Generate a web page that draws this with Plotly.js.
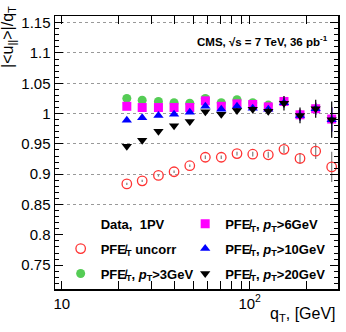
<!DOCTYPE html>
<html>
<head>
<meta charset="utf-8">
<script src="https://cdn.plot.ly/plotly-3.0.1.min.js"></script>
<style>
  html, body { margin: 0; padding: 0; background: #fff; }
  #chart { width: 346px; height: 332px; }
</style>
</head>
<body>
<div id="chart"></div>
<script>
// q_T bin centres [GeV]
const qT = [22.2, 26.8, 32.7, 39.6, 48.0, 58.1, 70.6, 85.6, 103.8, 125.6, 152.2, 185.2, 224.4, 273];

// |<u_par>|/q_T per PF MET variant
const uncorr = [0.884, 0.889, 0.898, 0.904, 0.914, 0.928, 0.928, 0.934, 0.933, 0.932, 0.941, 0.926, 0.938, 0.912];
const uncorrErr = [0.002, 0.002, 0.002, 0.002, 0.002, 0.003, 0.003, 0.003, 0.004, 0.005, 0.006, 0.009, 0.013, 0.025];
const pt3 = [1.025, 1.022, 1.020, 1.018, 1.017, 1.025, 1.018, 1.023, 1.018, 1.014, 1.020, 0.998, 1.008, 0.991];
const pt6 = [1.012, 1.010, 1.010, 1.010, 1.010, 1.021, 1.012, 1.016, 1.015, 1.011, 1.020, 0.998, 1.008, 0.991];
const pt10 = [0.989, 0.993, 0.997, 0.999, 1.002, 1.012, 1.007, 1.012, 1.009, 1.007, 1.018, 0.997, 1.008, 0.990];
const pt20 = [0.946, 0.956, 0.971, 0.980, 0.987, 1.003, 0.999, 1.005, 1.007, 1.004, 1.017, 0.997, 1.008, 0.990];
const corrErr = [0.002, 0.002, 0.002, 0.002, 0.002, 0.003, 0.003, 0.004, 0.005, 0.006, 0.012, 0.013, 0.015, 0.03];
const colErr = [0.001, 0.001, 0.001, 0.001, 0.001, 0.002, 0.002, 0.002, 0.003, 0.004, 0.008, 0.009, 0.01, 0.02];

// axis ticks
const yTickVals = [0.75, 0.8, 0.85, 0.9, 0.95, 1, 1.05, 1.1, 1.15];
const yTickText = ['0.75', '0.8', '0.85', '0.9', '0.95', '1', '1.05', '1.1', '1.15'];
const yGridVals = [0.85, 0.9, 0.95, 1, 1.05, 1.1, 1.15];
const xTickVals = [10, 100];
const xTickText = ['10', '10<sup>2</sup>'];
const xMinorVals = [20, 30, 40, 50, 60, 70, 80, 90, 200];

const FONT = 'Liberation Sans, Arial, Helvetica, sans-serif';
const MET = 'PFE\u0338<sub>T</sub>';

function series(y, err, name, symbol, color, size, legend, errColor) {
    return {
        x: qT, y: y, name: name, type: 'scatter', mode: 'markers',
        legend: legend, legendgroup: name,
        marker: { symbol: symbol, color: color, size: size,
                  line: { width: symbol.indexOf('open') >= 0 ? 1.3 : 0, color: color } },
        error_y: { type: 'data', array: err, visible: true, width: 0,
                   thickness: 1.3, color: errColor }
    };
}

const traces = [
    // header entry of the legend, no marker
    { x: [null], y: [null], name: 'Data,  1PV', type: 'scatter', mode: 'markers',
      legend: 'legend', legendgroup: 'hdr', marker: { color: 'rgba(0,0,0,0)', size: 1 } },
    series(pt3, colErr, MET + ', <i>p</i><sub>T</sub>>3GeV', 'circle', '#55cc55', 9, 'legend', '#55cc55'),
    series(pt6, colErr, MET + ', <i>p</i><sub>T</sub>>6GeV', 'square', '#ff00ff', 9, 'legend2', '#ff00ff'),
    series(pt10, colErr, MET + ', <i>p</i><sub>T</sub>>10GeV', 'triangle-up', '#0000ff', 9, 'legend2', '#0000ff'),
    series(pt20, corrErr, MET + ', <i>p</i><sub>T</sub>>20GeV', 'triangle-down', '#000000', 9, 'legend2', '#111111'),
    series(uncorr, uncorrErr, MET + ' uncorr', 'circle-open', '#ff3333', 9.5, 'legend', '#888888')
];
// legend order inside each column
traces[0].legendrank = 1;
traces[5].legendrank = 2;
traces[1].legendrank = 3;
traces[2].legendrank = 1;
traces[3].legendrank = 2;
traces[4].legendrank = 3;

const legendStyle = {
    orientation: 'v', xanchor: 'left', yanchor: 'top', y: 0.294,
    bgcolor: 'rgba(0,0,0,0)', itemwidth: 30, tracegroupgap: 5,
    font: { family: FONT, size: 13, weight: 'bold' }
};

const layout = {
    width: 346, height: 332,
    margin: { l: 55, r: 8, t: 16, b: 43 },
    paper_bgcolor: '#fff', plot_bgcolor: '#fff',
    font: { family: FONT, size: 15, color: '#000' },
    showlegend: true,
    legend: Object.assign({}, legendStyle, { x: 0.02 }),
    legend2: Object.assign({}, legendStyle, { x: 0.46 }),
    xaxis: {
        type: 'log', range: [Math.log10(9.21), Math.log10(295)],
        tickvals: xTickVals, ticktext: xTickText,
        ticks: 'inside', ticklen: 8, tickwidth: 1, tickcolor: '#000',
        minor: { tickvals: xMinorVals, ticks: 'inside', ticklen: 4, tickcolor: '#000', showgrid: false },
        showline: true, linecolor: '#000', linewidth: 1.5, mirror: 'allticks',
        showgrid: false, zeroline: false,
        tickfont: { size: 15 }
    },
    yaxis: {
        range: [0.7106, 1.161],
        tickvals: yTickVals, ticktext: yTickText,
        ticks: 'inside', ticklen: 8, tickwidth: 1, tickcolor: '#000',
        minor: { dtick: 0.01, tick0: 0, ticks: 'inside', ticklen: 4, tickcolor: '#000', showgrid: false },
        showline: true, linecolor: '#000', linewidth: 1.5, mirror: 'allticks',
        showgrid: false, zeroline: false,
        tickfont: { size: 15 }
    },
    // dotted horizontal grid, only above the legend
    yaxis2: {
        overlaying: 'y', range: [0.7106, 1.161],
        tickvals: yGridVals, showticklabels: false, ticks: '',
        showgrid: true, gridcolor: '#999', griddash: 'dot', gridwidth: 1,
        showline: false, zeroline: false
    },
    annotations: [
        { text: '|&lt;u<sub>||</sub>&gt;|/q<sub>T</sub>', textangle: -90,
          xref: 'paper', yref: 'paper', x: -0.165, y: 1.045, xanchor: 'center', yanchor: 'top',
          showarrow: false, font: { size: 16 } },
        { text: 'q<sub>T</sub>, [GeV]', xref: 'paper', yref: 'paper', x: 1, y: 0,
          xanchor: 'right', yanchor: 'top', yshift: -14, showarrow: false, font: { size: 16 } },
        { text: '<b>CMS, \u221As = 7 TeV, 36 pb<sup>-1</sup></b>', xref: 'paper', yref: 'paper',
          x: 0.97, y: 0.91, xanchor: 'right', yanchor: 'middle', showarrow: false,
          font: { size: 11.5 } }
    ]
};

// grid trace keeps yaxis2 alive
traces.push({ x: [null], y: [null], yaxis: 'y2', type: 'scatter', mode: 'markers',
              showlegend: false, hoverinfo: 'skip' });

Plotly.newPlot('chart', traces, layout, { staticPlot: true })
    .catch((error) => {
        console.error('Error rendering plot:', error);
    });
</script>
</body>
</html>
